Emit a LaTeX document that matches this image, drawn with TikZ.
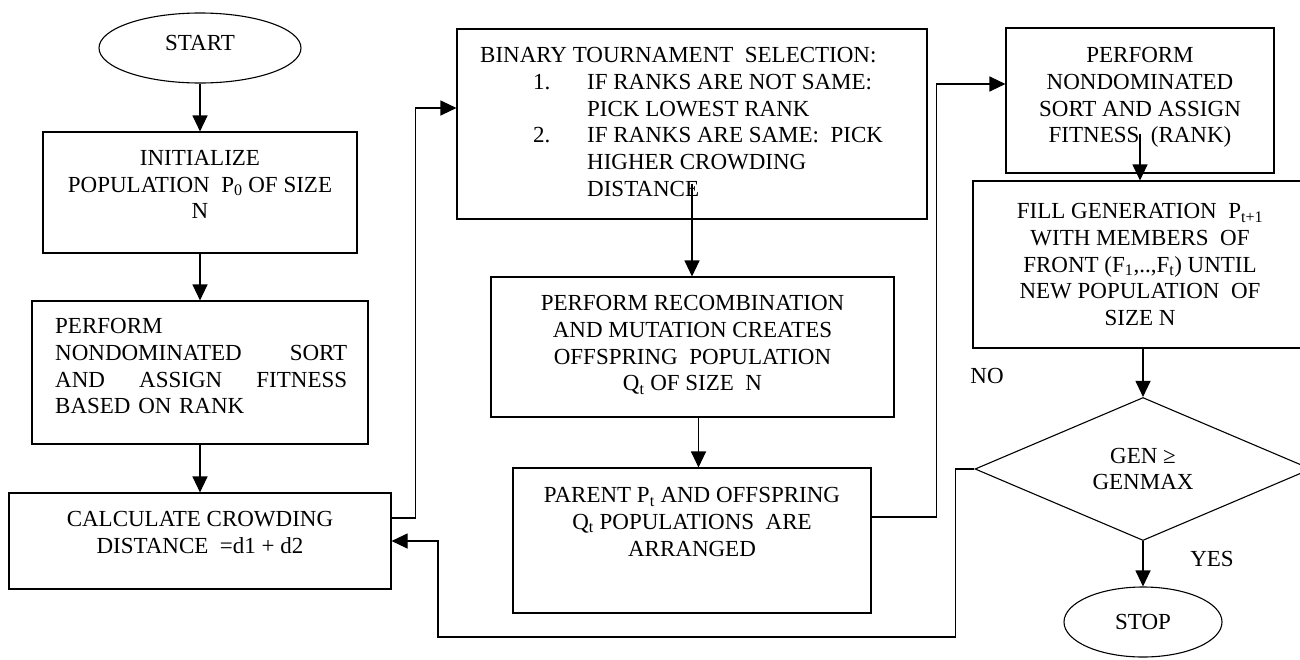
\documentclass[tikz,border=0pt]{standalone}
\usepackage{fontspec}
\setmainfont{Liberation Serif}
\usetikzlibrary{shapes.geometric,arrows.meta}
\tikzset{
  box/.style={draw, line width=1.1pt, rectangle, inner sep=0pt},
  oval/.style={draw, line width=1.1pt, ellipse, inner sep=0pt},
  txt/.style={inner sep=0pt, align=center, font=\fontsize{23}{26.8}\selectfont},
  arr/.style={line width=1.1pt, -{Triangle[length=16pt,width=15pt]}},
  conn/.style={line width=1.1pt},
}
\begin{document}
\begin{tikzpicture}[x=1pt,y=-1pt]
\useasboundingbox (0,0) rectangle (1300,659);
% shapes
\node[oval, minimum width=202pt, minimum height=70pt] (start) at (200,48) {};
\node[txt] (starttxt) at (200,43) {START};
\node[box, minimum width=314pt, minimum height=121pt] (init) at (200,192.5) {};
\node[txt, anchor=north] (inittxt) at (200,150) {INITIALIZE\\POPULATION\ \ P\textsubscript{0} OF SIZE\\N};
\node[box, minimum width=336pt, minimum height=143pt] (perf) at (200,372.5) {};
\node[txt, anchor=north west, align=left, text width=292pt] (perftxt) at (55,318) {PERFORM\\NONDOMINATED\hfill SORT\\AND\hfill ASSIGN\hfill FITNESS\\BASED ON RANK};
\node[box, minimum width=382pt, minimum height=96pt] (calc) at (200,541) {};
\node[txt, anchor=north] (calctxt) at (200,511) {CALCULATE CROWDING\\DISTANCE \ =d1 + d2};
\node[box, minimum width=470pt, minimum height=190pt] (bts) at (692,124) {};
\node[txt, anchor=north west, align=left] (btstxt) at (480,47) {BINARY TOURNAMENT \ SELECTION:\\
\hspace*{53pt}\makebox[54pt][l]{1.}IF RANKS ARE NOT SAME:\\
\hspace*{107pt}PICK LOWEST RANK\\
\hspace*{53pt}\makebox[54pt][l]{2.}IF RANKS ARE SAME: \ PICK\\
\hspace*{107pt}HIGHER CROWDING\\
\hspace*{107pt}DISTANCE};
\node[box, minimum width=403pt, minimum height=140pt] (rec) at (692.5,347) {};
\node[txt, anchor=north] (rectxt) at (692.5,295) {PERFORM RECOMBINATION\\AND MUTATION CREATES\\OFFSPRING \ POPULATION\\Q\textsubscript{t} OF SIZE \ N};
\node[box, minimum width=358pt, minimum height=145pt] (par) at (692,540.5) {};
\node[txt, anchor=north] (partxt) at (692,487) {PARENT P\textsubscript{t} AND OFFSPRING\\Q\textsubscript{t} POPULATIONS \ ARE\\ARRANGED};
\node[box, minimum width=268pt, minimum height=145pt] (sort) at (1140,100.5) {};
\node[txt, anchor=north] (sorttxt) at (1140,47) {PERFORM\\NONDOMINATED\\SORT AND ASSIGN\\FITNESS \ (RANK)};
\node[box, minimum width=334pt, minimum height=167pt] (fill) at (1140,264.5) {};
\node[txt, anchor=north] (filltxt) at (1140,203) {FILL GENERATION \ P\textsubscript{t+1}\\WITH MEMBERS \ OF\\FRONT (F\textsubscript{1},..,F\textsubscript{t}) UNTIL\\NEW POPULATION \ OF\\SIZE N};
\node[draw, line width=1.1pt, diamond, inner sep=0pt, minimum width=336pt, minimum height=143pt] (dec) at (1143,469) {};
\node[txt] (dectxt) at (1143,469) {GEN ≥\\GENMAX};
\node[oval, minimum width=158pt, minimum height=70pt] (stop) at (1143,622) {};
\node[txt] (stoptxt) at (1143,622) {STOP};
\node[txt] (no) at (987,376) {NO};
\node[txt] (yes) at (1212,559) {YES};
% connectors
\draw[arr] (start.south) -- (init.north);
\draw[arr] (init.south) -- (perf.north);
\draw[arr] (perf.south) -- (calc.north);
\draw[arr] ([yshift=23pt]calc.east) -- ++(24,0) |- ([yshift=16pt]bts.west);
\draw[arr] ([yshift=36pt]bts.south) -- (bts.south |- rec.north);
\draw[arr] ([xshift=6pt]rec.south) -- ([xshift=6.5pt]par.north);
\draw[arr] ([yshift=23.5pt]par.east) -- ++(65,0) |- ([yshift=16.5pt]sort.west);
\draw[arr] ([yshift=40pt]sort.south) -- (fill.north);
\draw[arr] (fill.south -| dec.north) -- (dec.north);
\draw[arr] (dec.south) -- (stop.north);
\coordinate (nob) at (438,637);
\draw[arr] (dec.west) -- ++(-19,0) |- (nob) |- (calc.east);
\end{tikzpicture}
\end{document}
